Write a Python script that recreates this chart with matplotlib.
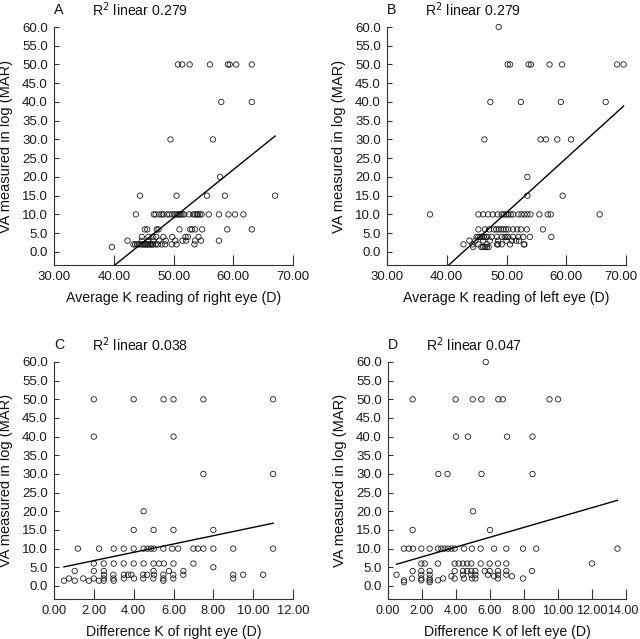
import matplotlib
matplotlib.use("Agg")
import matplotlib.pyplot as plt
import matplotlib.transforms as mtransforms
from matplotlib.ticker import FormatStrFormatter
import numpy as np

plt.rcParams['font.family'] = ['Liberation Sans', 'DejaVu Sans']

# ---------------- data (x values grouped by VA level) ----------------
a_rows = {
    50: [50.75, 51.46, 52.7, 56.1, 59.1, 59.4, 60.5, 63.1],
    40: [58.0, 63.1],
    30: [49.5, 56.6],
    20: [57.8],
    15: [44.4, 50.5, 55.6, 58.6, 67.0],
    10: [43.7, 46.7, 47.0, 47.6, 48.0, 48.3, 48.9, 49.3, 49.8, 50.2, 50.5, 50.8, 51.0,
         51.2, 51.5, 51.8, 52.6, 53.3, 53.6, 53.9, 54.1, 54.4, 54.7, 55.9, 57.6, 59.2, 60.3, 61.7],
    6: [45.2, 45.6, 47.2, 47.5, 51.0, 52.8, 53.1, 53.6, 54.8, 59.0, 63.1],
    4: [44.7, 45.8, 46.5, 47.1, 48.3, 49.8, 52.0, 52.4, 54.2],
    3: [42.3, 44.7, 45.8, 46.6, 47.6, 48.7, 50.3, 51.5, 52.1, 53.6, 54.6, 57.6],
    2: [43.3, 43.6, 43.9, 44.2, 44.5, 44.8, 45.0, 45.2, 45.4, 45.6, 45.8, 46.0, 46.2,
        46.4, 46.6, 47.0, 47.4, 48.0, 48.6, 49.7, 50.5, 53.5],
    1.3: [39.7],
}
b_rows = {
    60: [48.7],
    50: [50.2, 50.6, 53.7, 54.1, 57.2, 59.3, 68.5, 69.6],
    40: [47.3, 52.4, 59.1, 66.6],
    30: [46.3, 55.7, 56.6, 58.5, 60.8],
    20: [53.5],
    15: [53.5, 59.4],
    10: [37.2, 45.3, 46.1, 46.9, 47.7, 48.5, 49.2, 49.6, 50.0, 50.3, 50.7, 51.1, 52.0,
         52.5, 53.0, 53.5, 54.0, 55.5, 56.9, 57.4, 65.6],
    6: [45.3, 46.4, 47.1, 47.9, 48.3, 48.7, 49.1, 49.5, 49.9, 50.3, 51.1, 51.8, 52.4, 53.4, 56.1],
    4: [45.0, 45.3, 45.6, 45.9, 46.2, 46.5, 46.8, 47.5, 48.4, 49.2, 49.7, 50.0, 50.3,
        51.1, 52.0, 52.8, 53.9, 57.5],
    3: [43.8, 44.8, 46.1, 47.2, 48.6, 50.0, 50.9, 51.6, 52.1],
    2: [42.8, 44.3, 45.3, 46.7, 48.4, 48.6, 49.2, 50.6, 52.9, 53.0],
    1.3: [44.4, 45.8, 46.1, 46.4, 46.7, 47.0],
}
c_rows = {
    50: [2.0, 4.0, 5.5, 6.0, 7.5, 11.0],
    40: [2.0, 6.0],
    30: [7.5, 11.0],
    20: [4.5],
    15: [4.0, 5.0, 6.0, 8.0],
    10: [1.2, 2.26, 3.0, 3.5, 4.0, 4.5, 4.7, 4.87, 5.02, 5.49, 5.94, 6.23, 7.0, 7.23,
         7.5, 8.0, 9.0, 11.0],
    6: [2.0, 2.5, 3.0, 3.5, 4.0, 4.5, 5.0, 5.27, 5.52, 6.0, 7.0],
    5: [8.0],
    4: [1.04, 2.0, 2.5, 5.0, 5.77, 6.5],
    3: [2.51, 2.98, 3.51, 3.72, 3.88, 4.48, 4.68, 5.02, 5.49, 5.99, 6.49, 9.0, 9.5, 10.5],
    2: [0.75, 1.47, 2.0, 2.5, 2.98, 3.51, 4.02, 4.48, 4.99, 5.49, 5.99, 9.0],
    1.4: [0.5, 1.04, 1.75, 2.26, 2.5, 3.0, 5.49],
}
d_rows = {
    60: [5.75],
    50: [1.45, 3.98, 4.98, 5.49, 6.49, 6.75, 9.5, 10.0],
    40: [4.0, 4.7, 7.0, 8.5],
    30: [2.96, 3.5, 5.5, 8.5],
    20: [5.0],
    15: [1.45, 6.0],
    10: [0.94, 1.22, 1.47, 1.96, 2.45, 2.94, 3.14, 3.33, 3.53, 3.73, 3.92, 4.47, 4.94,
         5.45, 6.24, 6.96, 7.94, 8.72, 13.5],
    6: [1.96, 2.16, 2.94, 3.92, 4.16, 4.41, 4.66, 4.9, 5.45, 5.98, 6.47, 6.96, 12.0],
    4: [1.45, 1.96, 2.45, 3.92, 4.41, 4.66, 4.9, 5.14, 5.69, 5.98, 6.47, 6.96, 8.47],
    3: [0.5, 1.96, 2.45, 4.41, 4.9, 5.14, 5.88, 6.47, 6.96],
    2.6: [3.73, 6.24, 7.29],
    2: [1.41, 1.96, 2.45, 3.24, 3.92, 4.47, 4.94, 5.14, 6.47, 7.94],
    1.5: [0.94, 1.96, 2.45, 2.94],
    1: [0.94, 2.45],
}

# regression lines (slope, intercept)
fit_a = (1.283, -55.06)
fit_b = (1.450, -62.0)
fit_c = (1.114, 4.55)
fit_d = (1.318, 5.15)

letters = ["A", "B", "C", "D"]
r2_texts = ["0.279", "0.279", "0.038", "0.047"]
xlabels = ["Average K reading of right eye (D)", "Average K reading of left eye (D)",
           "Difference K of right eye (D)", "Difference K of left eye (D)"]
xlims = [(30, 70), (30, 70), (0, 12), (0, 14)]
xtick_steps = [10, 10, 2, 2]
xtick_sizes = [9.5, 9.5, 9.3, 9.0]
ylabel = "VA measured in log (MAR)"

fig = plt.figure(figsize=(6.40, 6.39), dpi=100)
W, H = 640, 639
boxes = [(54, 27, 293, 265), (387, 27, 626, 265), (54, 362, 293, 599), (388, 362, 626, 599)]

panels = [a_rows, b_rows, c_rows, d_rows]
fits = [fit_a, fit_b, fit_c, fit_d]
ink = "#1a1a1a"
axes = []

for i in range(4):
    x0, ytop, x1, ybot = boxes[i]
    ax = fig.add_axes([x0 / W, 1 - ybot / H, (x1 - x0) / W, (ybot - ytop) / H])
    axes.append(ax)
    rows = panels[i]
    xs = np.concatenate([np.array(v, float) for v in rows.values()])
    ys = np.concatenate([np.full(len(v), float(k)) for k, v in rows.items()])
    ax.scatter(xs, ys, s=15, facecolors="none", edgecolors=ink, linewidths=0.6,
               clip_on=False, zorder=3)
    m, b = fits[i]
    lx = np.array([xs.min(), xs.max()])
    ax.plot(lx, m * lx + b, color="black", lw=1.0, zorder=4)
    ax.set_xlim(*xlims[i])
    ax.set_ylim(-3.5, 60)
    ax.set_yticks(np.arange(0, 60.1, 5))
    ax.set_xticks(np.arange(xlims[i][0], xlims[i][1] + 0.01, xtick_steps[i]))
    ax.yaxis.set_major_formatter(FormatStrFormatter("%.1f"))
    ax.xaxis.set_major_formatter(FormatStrFormatter("%.2f"))
    for s in ["top", "right"]:
        ax.spines[s].set_visible(False)
    for s in ["left", "bottom"]:
        ax.spines[s].set_linewidth(0.8)
        ax.spines[s].set_color("#333333")
    ax.tick_params(axis="y", direction="in", length=3.5, width=0.8, colors="#333333",
                   labelsize=9.5, labelcolor="#1a1a1a", pad=4.5)
    ax.tick_params(axis="x", direction="in", length=7, width=0.8, colors="#333333",
                   labelsize=xtick_sizes[i], labelcolor="#1a1a1a", pad=4.5)
    ax.set_xlabel(xlabels[i], fontsize=10.2, color="#111111", labelpad=5.5)
    ax.set_ylabel(ylabel, fontsize=10.5, color="#111111", labelpad=6.5)
    ax.text(0.0, 1.072, letters[i], transform=ax.transAxes, fontsize=10.2,
            ha="left", va="center", color="#111111")
    ax.text(0.159, 1.072, "R$^2$ linear " + r2_texts[i], transform=ax.transAxes,
            fontsize=10.2, ha="left", va="center", color="#111111")
    ax.patch.set_alpha(0)

# nudge the right-most x tick label of the right-hand panels slightly left
fig.canvas.draw()
for ax, dx in ((axes[1], 5), (axes[3], 3)):
    shift = mtransforms.ScaledTranslation(-dx / 100, 0, fig.dpi_scale_trans)
    lab = ax.xaxis.get_majorticklabels()[-1]
    lab.set_transform(lab.get_transform() + shift)

fig.savefig("out.png", dpi=100)
